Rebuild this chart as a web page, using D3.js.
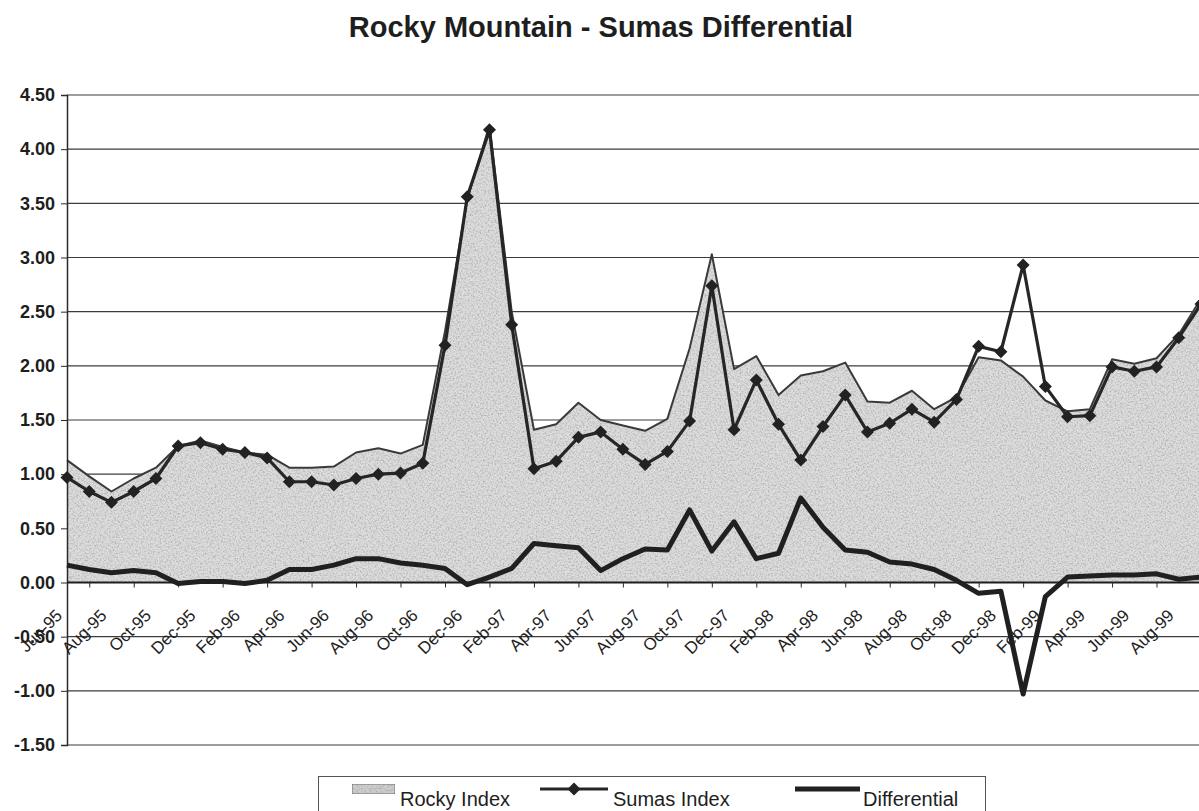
<!DOCTYPE html>
<html>
<head>
<meta charset="utf-8">
<script src="https://cdn.jsdelivr.net/npm/d3@7"></script>
<style>
  html, body { margin: 0; padding: 0; background: #fff; }
  svg { display: block; font-family: "Liberation Sans", Arial, Helvetica, sans-serif; }
</style>
</head>
<body>
<svg id="chart" width="1199" height="811"></svg>
<script>
// Monthly categories, Jul-95 through Oct-99
const months = [
  "Jul-95","Aug-95","Sep-95","Oct-95","Nov-95","Dec-95",
  "Jan-96","Feb-96","Mar-96","Apr-96","May-96","Jun-96","Jul-96","Aug-96","Sep-96","Oct-96","Nov-96","Dec-96",
  "Jan-97","Feb-97","Mar-97","Apr-97","May-97","Jun-97","Jul-97","Aug-97","Sep-97","Oct-97","Nov-97","Dec-97",
  "Jan-98","Feb-98","Mar-98","Apr-98","May-98","Jun-98","Jul-98","Aug-98","Sep-98","Oct-98","Nov-98","Dec-98",
  "Jan-99","Feb-99","Mar-99","Apr-99","May-99","Jun-99","Jul-99","Aug-99","Sep-99","Oct-99"
];

// Rocky Mountain index ($/MMBtu)
const rockyIndex = [
  1.13, 0.98, 0.84, 0.96, 1.06, 1.26,
  1.31, 1.25, 1.20, 1.18, 1.06, 1.06, 1.07, 1.20, 1.24, 1.19, 1.27, 2.32,
  3.54, 4.22, 2.50, 1.41, 1.46, 1.66, 1.50, 1.45, 1.40, 1.51, 2.16, 3.03,
  1.97, 2.09, 1.73, 1.91, 1.95, 2.03, 1.67, 1.66, 1.77, 1.60, 1.71, 2.08,
  2.05, 1.90, 1.68, 1.58, 1.60, 2.06, 2.02, 2.07, 2.29, 2.62
];

// Sumas index ($/MMBtu)
const sumasIndex = [
  0.97, 0.84, 0.74, 0.84, 0.96, 1.26,
  1.29, 1.23, 1.20, 1.15, 0.93, 0.93, 0.90, 0.96, 1.00, 1.01, 1.10, 2.19,
  3.56, 4.18, 2.38, 1.05, 1.12, 1.34, 1.39, 1.23, 1.09, 1.21, 1.49, 2.74,
  1.41, 1.87, 1.46, 1.13, 1.44, 1.73, 1.39, 1.47, 1.60, 1.48, 1.69, 2.18,
  2.13, 2.93, 1.81, 1.53, 1.54, 1.99, 1.95, 1.99, 2.26, 2.57
];

// Rocky minus Sumas
const differential = [
  0.16, 0.12, 0.09, 0.11, 0.09, -0.01,
  0.01, 0.01, -0.01, 0.02, 0.12, 0.12, 0.16, 0.22, 0.22, 0.18, 0.16, 0.13,
  -0.02, 0.05, 0.13, 0.36, 0.34, 0.32, 0.11, 0.22, 0.31, 0.30, 0.67, 0.29,
  0.56, 0.22, 0.27, 0.78, 0.51, 0.30, 0.28, 0.19, 0.17, 0.12, 0.02, -0.10,
  -0.08, -1.03, -0.13, 0.05, 0.06, 0.07, 0.07, 0.08, 0.03, 0.05
];

// Category-axis labels (every second month)
const xTickLabels = [
  "Jun-95","Aug-95","Oct-95","Dec-95","Feb-96","Apr-96","Jun-96","Aug-96","Oct-96","Dec-96",
  "Feb-97","Apr-97","Jun-97","Aug-97","Oct-97","Dec-97","Feb-98","Apr-98","Jun-98","Aug-98",
  "Oct-98","Dec-98","Feb-99","Apr-99","Jun-99","Aug-99"
];

// Value-axis ticks
const yTicks = [-1.5, -1.0, -0.5, 0, 0.5, 1.0, 1.5, 2.0, 2.5, 3.0, 3.5, 4.0, 4.5];

const legendItems = ["Rocky Index", "Sumas Index", "Differential"];

// ---- helpers ----
const monAbbr = ["Jan","Feb","Mar","Apr","May","Jun","Jul","Aug","Sep","Oct","Nov","Dec"];
// month offset from Jul-95
function monthOffset(label) {
  const [m, yy] = label.split("-");
  return (1900 + (+yy) - 1995) * 12 + monAbbr.indexOf(m) - 6;
}

const svg = d3.select("#chart");
const plotLeft = 67, plotRight = 1201, plotTop = 95, plotBottom = 745;

const x = d3.scaleLinear().domain([0, months.length - 1]).range([plotLeft, plotRight]);
const y = d3.scaleLinear().domain([-1.5, 4.5]).range([plotBottom, plotTop]);

const rows = months.map((m, i) => ({
  i, m: monthOffset(m), rocky: rockyIndex[i], sumas: sumasIndex[i], diff: differential[i]
}));

// ---- defs: grainy fill for the Rocky area ----
const defs = svg.append("defs");
const grain = defs.append("filter").attr("id", "grain")
  .attr("x", 0).attr("y", 0).attr("width", 1).attr("height", 1)
  .attr("color-interpolation-filters", "sRGB");
grain.append("feTurbulence").attr("type", "fractalNoise")
  .attr("baseFrequency", 0.6).attr("numOctaves", 3).attr("seed", 7).attr("result", "noise");
grain.append("feColorMatrix").attr("in", "noise").attr("type", "matrix")
  .attr("values", "0 0 0 0 0.55  0 0 0 0 0.55  0 0 0 0 0.55  1.3 0 0 0 -0.55")
  .attr("result", "speck");
grain.append("feComposite").attr("in", "speck").attr("in2", "SourceGraphic")
  .attr("operator", "in").attr("result", "speckIn");
const merge = grain.append("feMerge");
merge.append("feMergeNode").attr("in", "SourceGraphic");
merge.append("feMergeNode").attr("in", "speckIn");

// ---- title ----
svg.append("text")
  .attr("x", 601).attr("y", 37)
  .attr("text-anchor", "middle")
  .attr("font-size", 29).attr("font-weight", "bold").attr("fill", "#1e1e1e")
  .text("Rocky Mountain - Sumas Differential");

// ---- gridlines ----
svg.append("g").selectAll("line").data(yTicks).join("line")
  .attr("x1", plotLeft).attr("x2", plotRight)
  .attr("y1", d => y(d)).attr("y2", d => y(d))
  .attr("stroke", "#3c3c3c").attr("stroke-width", 1.1);

// ---- Rocky area ----
const area = d3.area().x(d => x(d.i)).y0(y(0)).y1(d => y(d.rocky));
svg.append("path").datum(rows)
  .attr("d", area)
  .attr("fill", "#dddddd")
  .attr("filter", "url(#grain)");

const rockyLine = d3.line().x(d => x(d.i)).y(d => y(d.rocky));
svg.append("path").datum(rows)
  .attr("d", rockyLine)
  .attr("fill", "none").attr("stroke", "#3a3a3a").attr("stroke-width", 2)
  .attr("stroke-linejoin", "round");

// ---- axes ----
const yAxis = d3.axisLeft(y).tickValues(yTicks).tickFormat(d => d.toFixed(2)).tickSize(6).tickPadding(7);
const gy = svg.append("g").attr("transform", `translate(${plotLeft},0)`).call(yAxis);
gy.select(".domain").attr("stroke", "#2a2a2a").attr("stroke-width", 1.5);
gy.selectAll(".tick line").attr("stroke", "#2a2a2a");
gy.selectAll(".tick text")
  .attr("font-size", 18).attr("font-weight", "bold").attr("fill", "#1e1e1e")
  .attr("font-family", "'Liberation Sans', Arial, sans-serif")
  .attr("x", -12);

const xTickVals = xTickLabels.map(monthOffset);
const xAxis = d3.axisBottom(x).tickValues(xTickVals)
  .tickFormat((d, i) => xTickLabels[i]).tickSize(5).tickSizeOuter(0);
const gx = svg.append("g").attr("transform", `translate(0,${y(0)})`).call(xAxis);
gx.select(".domain").attr("stroke", "#1e1e1e").attr("stroke-width", 1.8)
  .attr("d", `M${plotLeft},0H${plotRight}`);
gx.selectAll(".tick line").attr("stroke", "#2a2a2a")
  .attr("display", d => x(d) < plotLeft ? "none" : null);
gx.selectAll(".tick text")
  .attr("font-size", 17).attr("fill", "#1e1e1e")
  .attr("font-family", "'Liberation Sans', Arial, sans-serif")
  .attr("text-anchor", "end")
  .attr("y", 0).attr("dy", null)
  .attr("transform", "translate(18,34) rotate(-45)");

// ---- Differential line ----
const diffLine = d3.line().x(d => x(d.i)).y(d => y(d.diff));
svg.append("path").datum(rows)
  .attr("d", diffLine)
  .attr("fill", "none").attr("stroke", "#202020").attr("stroke-width", 5)
  .attr("stroke-linejoin", "round");

// ---- Sumas line with diamond markers ----
const sumasLine = d3.line().x(d => x(d.i)).y(d => y(d.sumas));
svg.append("path").datum(rows)
  .attr("d", sumasLine)
  .attr("fill", "none").attr("stroke", "#262626").attr("stroke-width", 3.2)
  .attr("stroke-linejoin", "round");

const diamond = "M0,-6.5L6.5,0L0,6.5L-6.5,0Z";
svg.append("g").selectAll("path").data(rows).join("path")
  .attr("d", diamond)
  .attr("transform", d => `translate(${x(d.i)},${y(d.sumas)})`)
  .attr("fill", "#222");

// ---- legend ----
const lg = svg.append("g");
lg.append("rect")
  .attr("x", 318.5).attr("y", 776.5).attr("width", 667).attr("height", 60)
  .attr("fill", "#fff").attr("stroke", "#555").attr("stroke-width", 1);

lg.append("rect")
  .attr("x", 352).attr("y", 784).attr("width", 43).attr("height", 10)
  .attr("fill", "#cfcfcf").attr("stroke", "#555").attr("stroke-width", 0.8)
  .attr("filter", "url(#grain)");
lg.append("text").attr("x", 400).attr("y", 806)
  .attr("font-size", 20).attr("fill", "#1e1e1e").text(legendItems[0]);

lg.append("line").attr("x1", 540).attr("x2", 608).attr("y1", 789).attr("y2", 789)
  .attr("stroke", "#262626").attr("stroke-width", 3);
lg.append("path").attr("d", diamond).attr("transform", "translate(574,789)").attr("fill", "#222");
lg.append("text").attr("x", 613).attr("y", 806)
  .attr("font-size", 20).attr("fill", "#1e1e1e").text(legendItems[1]);

lg.append("line").attr("x1", 795).attr("x2", 860).attr("y1", 789).attr("y2", 789)
  .attr("stroke", "#202020").attr("stroke-width", 5);
lg.append("text").attr("x", 863).attr("y", 806)
  .attr("font-size", 20).attr("fill", "#1e1e1e").text(legendItems[2]);
</script>
</body>
</html>
